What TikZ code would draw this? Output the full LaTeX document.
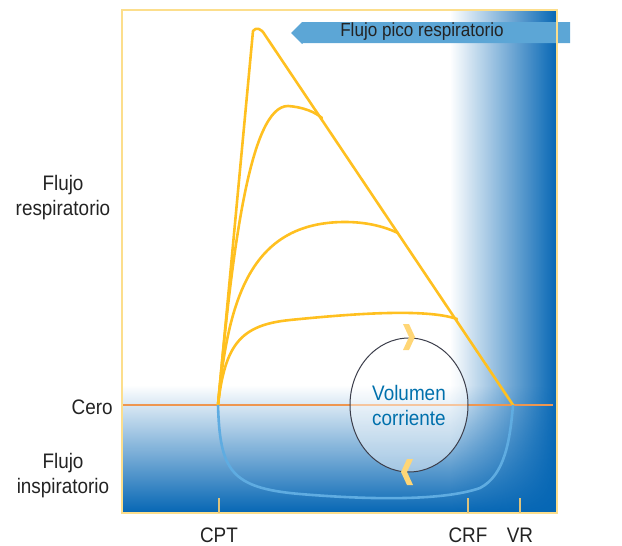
\documentclass[tikz,border=0pt]{standalone}
\usepackage{fontspec}
\setmainfont{Liberation Sans}[FakeStretch=0.9]
\definecolor{curveyellow}{RGB}{255,192,32}
\definecolor{zeroorange}{RGB}{238,150,80}
\definecolor{deepblue}{RGB}{5,102,180}
\definecolor{inspblue}{RGB}{95,172,225}
\definecolor{arrowblue}{RGB}{92,166,214}
\definecolor{framegold}{RGB}{252,222,140}
\definecolor{volblue}{RGB}{0,112,172}
\definecolor{chevron}{RGB}{255,214,118}
\definecolor{labelgray}{RGB}{35,35,35}
\definecolor{loopgray}{RGB}{60,62,75}
\usetikzlibrary{shapes,positioning,fadings}

\tikzset{
  axislabel/.style={text=labelgray, font=\fontsize{10.5}{12.5}\selectfont, align=center, inner sep=0pt},
  flowcurve/.style={curveyellow, line width=1.3pt, line join=round, line cap=round},
  tick/.style={framegold!80!black!60!framegold, line width=0.6pt}
}

\begin{document}
\begin{tikzpicture}[x=0.5pt,y=-0.5pt]
  \useasboundingbox (0,0) rectangle (622,546);
  % shaded backgrounds
  \fill[deepblue, path fading=north] (122,385) rectangle (557,513);
  \fill[deepblue, path fading=west] (450,10) rectangle (557,513);
  % zero line
  \coordinate (cpt0) at (218,405);
  \coordinate (vr0) at (513,405);
  \coordinate (zeroL) at (122,405);
  \coordinate (zeroR) at (553,405);
  \draw[zeroorange, line width=0.6pt] (zeroL) -- (zeroR);
  % flow-volume curves
  \draw[flowcurve] (cpt0) -- (253,31) .. controls (256,27) and (261,28) .. (265,35) -- (vr0);
  \draw[flowcurve] (cpt0) .. controls (232,250) and (250,106) .. (288,106) .. controls (303,107) and (315,112) .. (322,118);
  \draw[flowcurve] (cpt0) .. controls (228,300) and (250,222) .. (345,222) .. controls (368,222) and (385,227) .. (398,233);
  \draw[flowcurve] (cpt0) .. controls (225,345) and (240,325) .. (290,320) .. controls (350,314) and (425,308) .. (457,319);
  \draw[inspblue, line width=1.3pt] (cpt0) .. controls (220,470) and (230,488) .. (300,494) .. controls (360,499) and (440,502) .. (480,488) .. controls (505,475) and (510,440) .. (vr0);
  % tidal volume loop
  \node[ellipse, draw=loopgray, line width=0.5pt, fill=white, fill opacity=0.45,
        minimum width=59pt, minimum height=67pt, inner sep=0pt] (vol) at (409,405) {};
  \node[text=volblue, font=\fontsize{10.5}{12.5}\selectfont, align=center] (voltext) at (vol.center) {Volumen\\corriente};
  \fill[chevron] (403,324) -- (409,324) -- (415,337) -- (409,350) -- (403,350) -- (409,337) -- cycle;
  \fill[chevron] (413,459) -- (407,459) -- (401,472) -- (407,485) -- (413,485) -- (407,472) -- cycle;
  % peak flow arrow
  \fill[arrowblue] (291,33) -- (302,22) -- (303,22) -- (570,22) -- (570,43) -- (303,43) -- (302,44) -- cycle;
  \node[text=labelgray, font=\fontsize{9.5}{11}\selectfont, inner sep=0pt] (pico) at (422,32) {Flujo pico respiratorio};
  % frame and ticks
  \draw[framegold, line width=0.8pt] (122,10) rectangle (557,513);
  \foreach \tx in {219,468,520} \draw[tick] (\tx,498) -- (\tx,513);
  % labels
  \node[axislabel] (resp) at (63,198) {Flujo\\respiratorio};
  \node[axislabel, anchor=east] (cero) at (113,407) {Cero};
  \node[axislabel] (insp) at (63,476) {Flujo\\inspiratorio};
  \node[axislabel] (cpt) at (219,535) {CPT};
  \node[axislabel] (crf) at (468,535) {CRF};
  \node[axislabel] (vr) at (520,535) {VR};
\end{tikzpicture}
\end{document}
